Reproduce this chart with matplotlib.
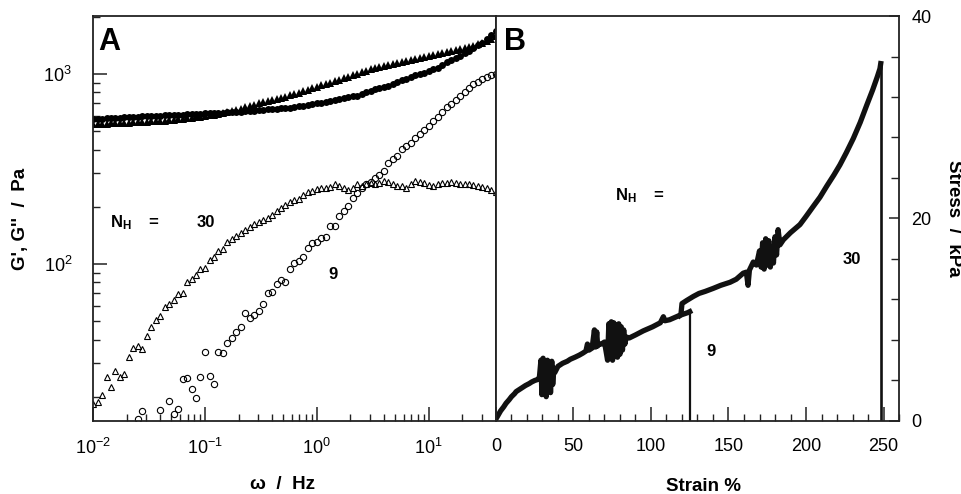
import numpy as np
import matplotlib.pyplot as plt
from matplotlib.ticker import MultipleLocator

plt.rcParams['font.family'] = 'Liberation Sans'
plt.rcParams['mathtext.fontset'] = 'custom'
plt.rcParams['mathtext.rm'] = 'Liberation Sans'
plt.rcParams['mathtext.bf'] = 'Liberation Sans:bold'
plt.rcParams['mathtext.it'] = 'Liberation Sans:italic'

# panel A: frequency sweep (Hz)
freq = [0.0100, 0.0110, 0.0120, 0.0132, 0.0145, 0.0158, 0.0174, 0.0191, 0.0209, 0.0229,
        0.0251, 0.0275, 0.0302, 0.0331, 0.0363, 0.0398, 0.0437, 0.0479, 0.0525, 0.0575,
        0.0631, 0.0692, 0.0759, 0.0832, 0.0912, 0.100, 0.110, 0.120, 0.132, 0.145,
        0.158, 0.174, 0.191, 0.209, 0.229, 0.251, 0.275, 0.302, 0.331, 0.363,
        0.398, 0.437, 0.479, 0.525, 0.575, 0.631, 0.692, 0.759, 0.832, 0.912,
        1.00, 1.10, 1.20, 1.32, 1.45, 1.58, 1.74, 1.91, 2.09, 2.29,
        2.51, 2.75, 3.02, 3.31, 3.63, 3.98, 4.37, 4.79, 5.25, 5.75,
        6.31, 6.92, 7.59, 8.32, 9.12, 10.0, 11.0, 12.0, 13.2, 14.5,
        15.8, 17.4, 19.1, 20.9, 22.9, 25.1, 27.5, 30.2, 33.1, 36.3, 39.8]

# G' (storage), N_H = 30 (filled triangles)
g1_30 = [545, 546, 547, 548, 549, 551, 552, 554, 555, 557,
         559, 560, 562, 564, 565, 566, 569, 571, 574, 577,
         580, 584, 587, 591, 596, 601, 606, 611, 616, 623,
         631, 639, 647, 655, 671, 679, 687, 700, 713, 721,
         730, 739, 748, 757, 775, 785, 795, 810, 824, 839,
         855, 870, 886, 897, 919, 930, 953, 965, 988, 1000,
         1025, 1038, 1057, 1070, 1088, 1100, 1115, 1129, 1143, 1157,
         1171, 1185, 1200, 1214, 1230, 1244, 1259, 1274, 1290, 1306,
         1322, 1338, 1354, 1371, 1387, 1404, 1430, 1456, 1483, 1528, 1590]

# G' (storage), N_H = 9 (filled circles)
g1_9 = [580, 582, 583, 585, 586, 588, 590, 591, 593, 594,
        596, 598, 600, 601, 603, 604, 606, 607, 609, 611,
        612, 614, 616, 617, 619, 620, 622, 623, 625, 627,
        628, 630, 631, 633, 636, 639, 642, 645, 648, 651,
        654, 657, 659, 662, 664, 670, 676, 682, 688, 694,
        700, 706, 713, 721, 730, 738, 747, 755, 764, 770,
        785, 800, 815, 830, 845, 858, 864, 885, 905, 925,
        945, 965, 985, 995, 1010, 1035, 1060, 1072, 1110, 1150,
        1190, 1215, 1250, 1290, 1321, 1370, 1420, 1462, 1530, 1610, 1680]

# G'' (loss), N_H = 30 (open triangles)
g2_30 = [18.3, 18.8, 20.5, 25.4, 22.5, 27.4, 25.4, 26.4, 32.4, 36.1,
         37.0, 35.7, 41.8, 46.6, 50.7, 53.2, 59.4, 61.5, 64.7, 69.5,
         70.3, 80.3, 83.4, 87.5, 94.2, 95.3, 105, 109, 117, 120,
         131, 135, 140, 146, 151, 157, 163, 167, 170, 175,
         182, 190, 198, 205, 212, 216, 220, 230, 238, 243,
         247, 251, 250, 255, 262, 258, 250, 245, 252, 262,
         258, 262, 268, 264, 266, 272, 270, 264, 258, 256,
         252, 262, 274, 270, 266, 260, 256, 262, 268, 266,
         270, 266, 264, 262, 262, 260, 258, 254, 250, 244, 238]

# G'' (loss), N_H = 9 (open circles)
g2_9 = [11, 12, 10, 11, 12, 10, 11, 12, 11, 12,
        15.2, 16.8, 13.0, 12.5, 13.5, 17.1, 13.8, 19.0, 16.3, 17.3,
        24.8, 25.1, 22.0, 19.7, 25.4, 34.4, 25.7, 23.4, 34.4, 34.0,
        38.4, 40.8, 43.9, 46.6, 55.2, 52.0, 53.9, 56.6, 61.5, 70.3,
        71.2, 78.5, 82.4, 80.3, 94.2, 101, 104, 109, 121, 129,
        131, 137, 138, 158, 158, 179, 190, 202, 222, 236,
        251, 264, 270, 284, 294, 308, 340, 357, 370, 403,
        418, 434, 461, 483, 507, 532, 566, 594, 631, 670,
        695, 730, 766, 804, 844, 886, 908, 942, 965, 988, 1000]

# panel B: tensile curves (strain %, stress kPa)
strain_9 = [0, 1.5, 3, 5, 6.5, 8.5, 10, 12, 13, 15, 17, 19, 21.5, 23, 25, 27,
            28, 29, 29.6, 30.4, 31, 31.8, 32.4, 33.2, 33.8, 34.6, 35.2, 36, 36.6, 37.4, 38,
            40, 43, 46, 48, 51, 53.7, 56, 58, 59, 60, 62,
            63.5, 64.2, 65, 65.6, 66.4, 68, 70,
            72, 72.8, 73.6, 74.4, 75.2, 76, 76.8, 77.6, 78.4, 79.2, 80, 80.8, 81.6, 82.4, 83.2, 84,
            86, 90, 95, 98, 101, 106, 108, 109, 112, 118, 123.7, 125]
stress_9 = [0.2, 0.6, 1.0, 1.4, 1.75, 2.1, 2.4, 2.7, 2.9, 3.1, 3.3, 3.5, 3.7, 3.85, 4.0, 4.1,
            4.3, 6.0, 2.6, 6.2, 3.0, 5.8, 2.4, 6.0, 3.2, 5.6, 2.8, 5.9, 3.6, 5.2, 4.8,
            5.4, 5.7, 5.9, 6.1, 6.3, 6.5, 6.7, 6.9, 7.6, 7.0, 7.2,
            9.0, 7.3, 8.8, 7.4, 7.6, 7.6, 7.8,
            6.0, 9.6, 6.2, 9.8, 6.0, 9.7, 6.4, 9.5, 6.3, 9.6, 6.6, 9.3, 7.0, 9.0, 7.6, 8.3,
            8.2, 8.5, 8.9, 9.1, 9.3, 9.7, 10.3, 9.9, 10.0, 10.4, 10.7, 10.8]

# N_H = 30 follows the N_H = 9 trace up to the slip at ~119 %
strain_30 = [118.5, 119.3, 120, 123, 127.3, 131, 135, 140.2, 145, 151, 155, 159.5, 161.5, 162.6, 163.5, 166,
             168, 170, 171, 172, 173, 174, 175, 176, 177, 178, 179, 180, 181, 182, 183.2,
             185.4, 190, 196.1, 200, 204.7, 209, 213.4, 218, 221.9, 226, 230.5, 235, 239.2, 243, 246, 247.7, 248.2]
stress_30 = [10.4, 10.5, 11.6, 11.9, 12.3, 12.6, 12.8, 13.1, 13.4, 13.7, 14.0, 14.6, 14.7, 13.4, 14.9, 15.7,
             15.4, 16.8, 15.2, 17.6, 15.0, 18.0, 15.4, 17.8, 15.2, 17.2, 15.6, 18.2, 16.4, 18.9, 17.4,
             17.9, 18.6, 19.4, 20.2, 21.2, 22.1, 23.2, 24.3, 25.3, 26.5, 27.9, 29.5, 31.2, 32.7, 34.0, 34.8, 35.3]

fig = plt.figure(figsize=(9.61, 4.94), dpi=100)
axA = fig.add_axes([0.0968, 0.1478, 0.4194, 0.8198])
axB = fig.add_axes([0.5161, 0.1478, 0.4194, 0.8198])

spine_col = '#222222'

# ---- panel A
axA.plot(freq, g1_9, 'o', color='k', ms=5, mew=0)
axA.plot(freq, g1_30, '^', color='k', ms=5.5, mew=0)
axA.plot(freq, g2_30, '^', mfc='none', mec='k', ms=5, mew=0.8)
axA.plot(freq, g2_9, 'o', mfc='none', mec='k', ms=4.5, mew=0.8)
axA.set_xscale('log')
axA.set_yscale('log')
axA.set_xlim(0.01, 40)
axA.set_ylim(14.9, 2020)
axA.tick_params(which='both', direction='in', top=False, right=False,
                labelsize=13, color=spine_col)
axA.tick_params(which='major', length=10, width=1.1)
axA.tick_params(which='minor', length=5, width=1.0)
axA.tick_params(axis='x', pad=12)
axA.tick_params(axis='y', pad=15)

axA.set_xlabel('\u03c9  /  Hz', fontsize=13.5, fontweight='bold')
axA.xaxis.set_label_coords(0.469, -0.136)
axA.set_ylabel("G', G''  /  Pa", fontsize=13.5, fontweight='bold')
axA.yaxis.label.set(va='center', ha='center')
axA.yaxis.set_label_coords(-0.179, 0.5)

axA.text(0.012, 0.916, 'A', transform=axA.transAxes, fontsize=22, fontweight='bold')
axA.text(0.042, 0.479, r'$\mathbf{N_H}$', transform=axA.transAxes, fontsize=12)
axA.text(0.136, 0.479, '=', transform=axA.transAxes, fontsize=12, fontweight='bold')
axA.text(0.256, 0.479, '30', transform=axA.transAxes, fontsize=12, fontweight='bold')
axA.text(0.583, 0.351, '9', transform=axA.transAxes, fontsize=12, fontweight='bold')

# ---- panel B
axB.plot(strain_9, stress_9, color='#111111', lw=3.8, solid_joinstyle='round')
axB.plot(strain_30, stress_30, color='#111111', lw=3.8, solid_joinstyle='round')
axB.plot([strain_9[-1], strain_9[-1]], [stress_9[-1], 0], color='#111111', lw=1.6)
axB.plot([strain_30[-1], strain_30[-1]], [stress_30[-1], 0], color='#111111', lw=1.9)
axB.set_xlim(0, 260)
axB.set_ylim(0, 40)
axB.xaxis.set_major_locator(MultipleLocator(50))
axB.xaxis.set_minor_locator(MultipleLocator(10))
axB.yaxis.set_major_locator(MultipleLocator(20))
axB.yaxis.set_minor_locator(MultipleLocator(4))
axB.yaxis.tick_right()
axB.yaxis.set_label_position('right')
axB.tick_params(which='both', direction='in', top=False, left=False, right=True,
                labelsize=13, color=spine_col)
axB.tick_params(axis='x', which='major', length=10, width=1.1, pad=12)
axB.tick_params(axis='x', which='minor', length=5, width=1.0)
axB.tick_params(axis='y', which='major', length=7, width=1.1, pad=9)
axB.tick_params(axis='y', which='minor', length=6, width=1.0)

axB.set_xlabel('Strain %', fontsize=13.5, fontweight='bold')
axB.xaxis.set_label_coords(0.514, -0.141)
axB.set_ylabel('Stress  /  kPa', fontsize=13.5, fontweight='bold', rotation=270)
axB.yaxis.label.set(va='center', ha='center')
axB.yaxis.set_label_coords(1.134, 0.5)

axB.text(0.02, 0.916, 'B', transform=axB.transAxes, fontsize=22, fontweight='bold')
axB.text(0.295, 0.546, r'$\mathbf{N_H}$', transform=axB.transAxes, fontsize=12)
axB.text(0.390, 0.546, '=', transform=axB.transAxes, fontsize=12, fontweight='bold')
axB.text(0.521, 0.160, '9', transform=axB.transAxes, fontsize=12, fontweight='bold')
axB.text(0.861, 0.388, '30', transform=axB.transAxes, fontsize=12, fontweight='bold')

for ax in (axA, axB):
    for sp in ax.spines.values():
        sp.set_color(spine_col)
        sp.set_linewidth(1.3)

fig.savefig('out.png', dpi=100)
